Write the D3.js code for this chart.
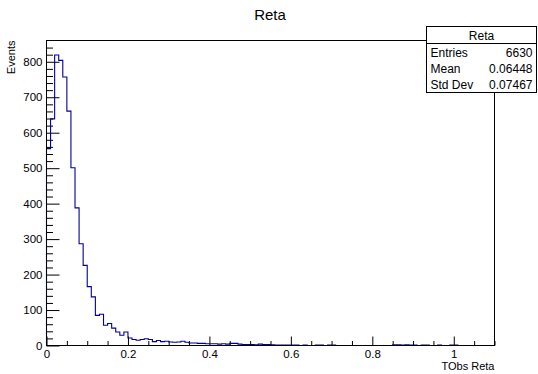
<!DOCTYPE html>
<html><head><meta charset="utf-8">
<script src="https://cdn.jsdelivr.net/npm/d3@7"></script>
<style>body{margin:0;background:#fff}svg{display:block}text{font-family:"Liberation Sans",Arial,Helvetica,sans-serif}</style>
</head><body><svg id="c" width="538" height="374"></svg>
<script>
// Histogram "Reta": 110 bins of width 0.01 from 0 to 1.1
const binLow = 0, binWidth = 0.01;
const counts = [
 555, 639, 819, 804, 757, 661, 501, 388, 287, 226,
 166, 137, 85, 88, 57, 62, 49, 38, 29, 38,
 21, 17, 15, 17, 19, 17, 11, 14, 11, 12,
 10, 9, 10, 12, 9, 7, 7, 6, 6, 5,
 5, 5, 4, 5, 4, 6, 6, 4, 3, 3,
 3, 2, 4, 3, 3, 2, 1, 1, 1, 1,
 1, 1, 0, 1, 0, 0, 1, 1, 0, 1,
 1, 0, 0, 0, 0, 0, 0, 0, 0, 0,
 0, 0, 0, 0, 0, 2, 2, 1, 2, 1,
 1, 0, 1, 1, 0, 0, 1, 0, 0, 1,
 1, 0, 0, 0, 0, 0, 0, 0, 0, 0
];
const xMajor = [0, 0.2, 0.4, 0.6, 0.8, 1.0];
const xMajorLabels = ["0", "0.2", "0.4", "0.6", "0.8", "1"];
const yMajor = [0, 100, 200, 300, 400, 500, 600, 700, 800];
const statsTitle = "Reta";
const statsNames = ["Entries", "Mean", "Std Dev"];
const statsValues = ["6630", "0.06448", "0.07467"];
const chartTitle = "Reta", xTitle = "TObs Reta", yTitle = "Events";

const svg = d3.select("#c");
svg.append("rect").attr("width",538).attr("height",374).attr("fill","#fff");
const L = 46.5, R = 494.5, T = 40.5, B = 345.5;
const x = d3.scaleLinear().domain([0, 1.1]).range([L, R]);
const y = d3.scaleLinear().domain([0, 860]).range([B, T]);

// minor ticks
const xMinor = d3.range(0, 1.1001, 0.05).filter(v => !xMajor.some(m => Math.abs(m - v) < 1e-6));
const yMinor = d3.range(0, 860, 20).filter(v => v % 100 !== 0);

const gx = svg.append("g").attr("transform", `translate(0,${B})`);
gx.call(d3.axisBottom(x).tickValues(xMajor).tickFormat((d,i)=>xMajorLabels[i]).tickSizeInner(-9).tickSizeOuter(0).tickPadding(4));
const gxm = svg.append("g").attr("transform", `translate(0,${B})`);
gxm.call(d3.axisBottom(x).tickValues(xMinor).tickFormat("").tickSizeInner(-4.5).tickSizeOuter(0));
const gy = svg.append("g").attr("transform", `translate(${L},0)`);
gy.call(d3.axisLeft(y).tickValues(yMajor).tickFormat(d3.format("d")).tickSizeInner(-13).tickSizeOuter(0).tickPadding(4));
const gym = svg.append("g").attr("transform", `translate(${L},0)`);
gym.call(d3.axisLeft(y).tickValues(yMinor).tickFormat("").tickSizeInner(-6.5).tickSizeOuter(0));
svg.selectAll(".domain").remove();
svg.selectAll(".tick line").attr("stroke","#000").attr("stroke-width",1);
svg.selectAll(".tick text").attr("font-size",11.5).attr("fill","#000").style("font-family","'Liberation Sans',Arial,sans-serif");

// histogram step path
const pts = [[x(binLow), y(0)]];
counts.forEach((c,i) => {
  const x0 = binLow + i*binWidth, x1 = x0 + binWidth;
  pts.push([x(x0), y(c)], [x(x1), y(c)]);
});
pts.push([x(binLow + counts.length*binWidth), y(0)]);
svg.append("path").attr("d", d3.line()(pts)).attr("fill","none").attr("stroke","#000099").attr("stroke-width",1.1);

// frame
svg.append("rect").attr("x",L).attr("y",T).attr("width",R-L).attr("height",B-T).attr("fill","none").attr("stroke","#000").attr("stroke-width",1);

// titles
svg.append("text").attr("x",270).attr("y",20).attr("text-anchor","middle").attr("font-size",15).text(chartTitle);
svg.append("text").attr("x",R).attr("y",370).attr("text-anchor","end").attr("font-size",11).text(xTitle);
svg.append("text").attr("transform",`translate(15,${T}) rotate(-90)`).attr("text-anchor","end").attr("font-size",11).text(yTitle);

// stats box
const sx = 426.5, sy = 26.5, sw = 110, sh = 66;
svg.append("rect").attr("x",sx).attr("y",sy).attr("width",sw).attr("height",sh).attr("fill","#fff").attr("stroke","#000");
svg.append("line").attr("x1",sx).attr("x2",sx+sw).attr("y1",sy+17).attr("y2",sy+17).attr("stroke","#000");
svg.append("text").attr("x",sx+sw/2).attr("y",sy+13).attr("text-anchor","middle").attr("font-size",12).text(statsTitle);
statsNames.forEach((n,i)=>{
  const yy = sy + 30 + i*16;
  svg.append("text").attr("x",sx+4).attr("y",yy).attr("font-size",12).text(n);
  svg.append("text").attr("x",sx+sw-4).attr("y",yy).attr("text-anchor","end").attr("font-size",12).text(statsValues[i]);
});
</script></body></html>
